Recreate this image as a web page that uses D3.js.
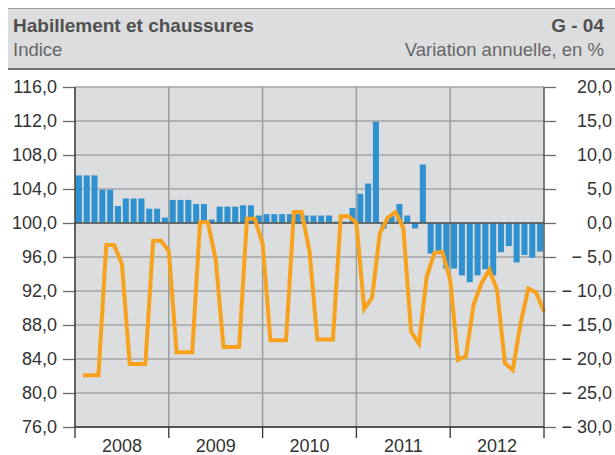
<!DOCTYPE html>
<html>
<head>
<meta charset="utf-8">
<script src="https://cdn.jsdelivr.net/npm/d3@7"></script>
<style>
	body { margin: 0; background: #ffffff; }
	svg { display: block; font-family: "Liberation Sans", Arial, sans-serif; }
</style>
</head>
<body>
<svg id="chart"></svg>
<script>

// ---------- Data ---------- //

var years = ["2008", "2009", "2010", "2011", "2012"];

// annual variation in % (bars, right axis)
var variation = [
	7.0, 7.0, 7.0, 4.9, 4.9, 2.5, 3.6, 3.6, 3.6, 2.1, 2.1, 0.8,
	3.4, 3.4, 3.4, 2.8, 2.8, 0.5, 2.4, 2.4, 2.4, 2.6, 2.6, 1.1,
	1.3, 1.3, 1.3, 1.3, 1.3, 1.1, 1.1, 1.1, 1.1, 0.2, 0.2, 2.2,
	4.3, 5.8, 14.9, -0.8, 1.0, 2.8, 1.1, -0.8, 8.6, -4.5, -4.5, -6.7,
	-6.7, -7.7, -8.7, -7.7, -6.8, -7.7, -4.3, -3.4, -5.8, -4.7, -5.1, -4.2
];

// index (line, left axis)
var indice = [
	82.1, 82.1, 82.1, 97.4, 97.4, 95.2, 83.4, 83.4, 83.4, 97.9, 97.9, 96.7,
	84.8, 84.8, 84.8, 100.1, 100.1, 95.7, 85.4, 85.4, 85.4, 100.5, 100.5, 97.6,
	86.2, 86.2, 86.2, 101.3, 101.3, 96.7, 86.3, 86.3, 86.3, 100.8, 100.8, 100.0,
	89.9, 91.2, 98.8, 100.6, 101.3, 99.4, 87.2, 85.8, 93.7, 96.5, 96.6, 93.3,
	83.9, 84.3, 90.4, 92.9, 94.5, 92.1, 83.5, 82.7, 88.2, 92.3, 91.8, 89.6
];

var leftTicks = [76, 80, 84, 88, 92, 96, 100, 104, 108, 112, 116];
var rightTicks = [-30, -25, -20, -15, -10, -5, 0, 5, 10, 15, 20];

// months as categories
var months = [];
years.forEach(function(y){
	for (var m = 1; m <= 12; m++) months.push(y + "-" + m);
});

// ---------- Canvas ---------- //

var width = 615;
var height = 455;
var x0 = 75, x1 = 544, yTop = 87, yBot = 427;

var svg = d3.select("#chart")
		.attr("width", width)
		.attr("height", height);

// --- Header --- //
svg.append("rect")
		.attr("x", 8)
		.attr("y", 8)
		.attr("width", width - 8)
		.attr("height", 61)
		.attr("fill", "#dcdddf");

svg.append("line")
		.attr("x1", 8).attr("x2", width)
		.attr("y1", 8.5).attr("y2", 8.5)
		.attr("stroke", "#9a9a9a")
		.attr("stroke-width", 1);

svg.append("line")
		.attr("x1", 8).attr("x2", width)
		.attr("y1", 69).attr("y2", 69)
		.attr("stroke", "#6e6e6e")
		.attr("stroke-width", 2);

svg.append("text")
		.attr("x", 13).attr("y", 32)
		.attr("font-size", "19px")
		.attr("font-weight", "bold")
		.attr("fill", "#505050")
		.text("Habillement et chaussures");

svg.append("text")
		.attr("x", 604).attr("y", 32)
		.attr("text-anchor", "end")
		.attr("font-size", "19px")
		.attr("font-weight", "bold")
		.attr("fill", "#505050")
		.text("G - 04");

svg.append("text")
		.attr("x", 13).attr("y", 56)
		.attr("font-size", "18.5px")
		.attr("fill", "#666666")
		.text("Indice");

svg.append("text")
		.attr("x", 604).attr("y", 56)
		.attr("text-anchor", "end")
		.attr("font-size", "18.5px")
		.attr("fill", "#666666")
		.text("Variation annuelle, en %");

// ---------- Scales ---------- //

var x = d3.scaleBand()
		.domain(months)
		.range([x0, x1])
		.paddingInner(0.23)
		.paddingOuter(0.115);

var xYear = d3.scaleBand()
		.domain(years)
		.range([x0, x1]);

// line points sit at the end of each month
var xLine = d3.scalePoint()
		.domain(months)
		.range([x0 + (x1 - x0) / months.length, x1]);

var yL = d3.scaleLinear().domain([76, 116]).range([yBot, yTop]);
var yR = d3.scaleLinear().domain([-30, 20]).range([yBot, yTop]);

// --- Plot background --- //
svg.append("rect")
		.attr("x", x0).attr("y", yTop)
		.attr("width", x1 - x0).attr("height", yBot - yTop)
		.attr("fill", "#dcdddf");

// horizontal grid
svg.append("g")
		.selectAll("line")
		.data(leftTicks)
		.enter().append("line")
		.attr("x1", x0).attr("x2", x1)
		.attr("y1", function(d){ return yL(d); })
		.attr("y2", function(d){ return yL(d); })
		.attr("stroke", "#a3a4a6")
		.attr("stroke-width", 1.5);

// vertical year grid
svg.append("g")
		.selectAll("line")
		.data(years.slice(1))
		.enter().append("line")
		.attr("x1", function(d){ return xYear(d); })
		.attr("x2", function(d){ return xYear(d); })
		.attr("y1", yTop).attr("y2", yBot)
		.attr("stroke", "#9b9c9e")
		.attr("stroke-width", 1.5);

// --- Bars --- //
svg.append("g")
		.selectAll("rect")
		.data(variation)
		.enter().append("rect")
		.attr("x", function(d, i){ return x(months[i]); })
		.attr("width", x.bandwidth())
		.attr("y", function(d){ return Math.min(yR(d), yR(0)); })
		.attr("height", function(d){ return Math.abs(yR(d) - yR(0)); })
		.attr("fill", "#2f91d0");

// zero line
svg.append("line")
		.attr("x1", x0).attr("x2", x1)
		.attr("y1", yR(0)).attr("y2", yR(0))
		.attr("stroke", "#555555")
		.attr("stroke-width", 1.5);

// --- Line --- //
var line = d3.line()
		.x(function(d, i){ return xLine(months[i]); })
		.y(function(d){ return yL(d); });

svg.append("path")
		.datum(indice)
		.attr("d", line)
		.attr("fill", "none")
		.attr("stroke", "#f7a11c")
		.attr("stroke-width", 4)
		.attr("stroke-linejoin", "miter");

// ---------- Axes ---------- //

var fmt = function(d){ return d.toFixed(1).replace(".", ","); };

var leftAxis = d3.axisLeft(yL)
		.tickValues(leftTicks)
		.tickSize(12)
		.tickPadding(6)
		.tickFormat(fmt);

var rightAxis = d3.axisRight(yR)
		.tickValues(rightTicks)
		.tickSize(12)
		.tickFormat(function(d){
			return d < 0 ? "\u2212 " + fmt(-d) : fmt(d);
		});

var gL = svg.append("g")
		.attr("transform", "translate(" + x0 + ",0)")
		.call(leftAxis);

var gR = svg.append("g")
		.attr("transform", "translate(" + x1 + ",0)")
		.call(rightAxis);

[gL, gR].forEach(function(g){
	g.select(".domain").remove();
	g.selectAll(".tick line").attr("stroke", "#6b6b6b").attr("stroke-width", 1.3);
	g.selectAll(".tick text")
			.attr("font-size", "18px")
			.attr("font-family", "Liberation Sans, Arial, sans-serif")
			.attr("fill", "#333333");
});

// right labels right-aligned at the edge
gR.selectAll(".tick text")
		.attr("text-anchor", "end")
		.attr("x", 612 - x1);

// bottom axis with year labels
var gB = svg.append("g")
		.attr("transform", "translate(0," + yBot + ")")
		.call(d3.axisBottom(xYear).tickSize(0).tickPadding(12));

gB.select(".domain").remove();
gB.selectAll(".tick text")
		.attr("font-size", "18px")
		.attr("font-family", "Liberation Sans, Arial, sans-serif")
		.attr("fill", "#333333");

gB.selectAll(".yearTick")
		.data(years.concat(["end"]))
		.enter().append("line")
		.attr("class", "yearTick")
		.attr("x1", function(d){ return d === "end" ? x1 : xYear(d); })
		.attr("x2", function(d){ return d === "end" ? x1 : xYear(d); })
		.attr("y1", 0).attr("y2", 11)
		.attr("stroke", "#333333")
		.attr("stroke-width", 1.3);

// axis frame lines
svg.append("line")
		.attr("x1", x0).attr("x2", x0)
		.attr("y1", yTop).attr("y2", yBot)
		.attr("stroke", "#333333").attr("stroke-width", 1.5);

svg.append("line")
		.attr("x1", x1).attr("x2", x1)
		.attr("y1", yTop).attr("y2", yBot)
		.attr("stroke", "#555555").attr("stroke-width", 1.5);

svg.append("line")
		.attr("x1", x0).attr("x2", x1)
		.attr("y1", yBot).attr("y2", yBot)
		.attr("stroke", "#333333").attr("stroke-width", 1.5);

</script>
</body>
</html>
